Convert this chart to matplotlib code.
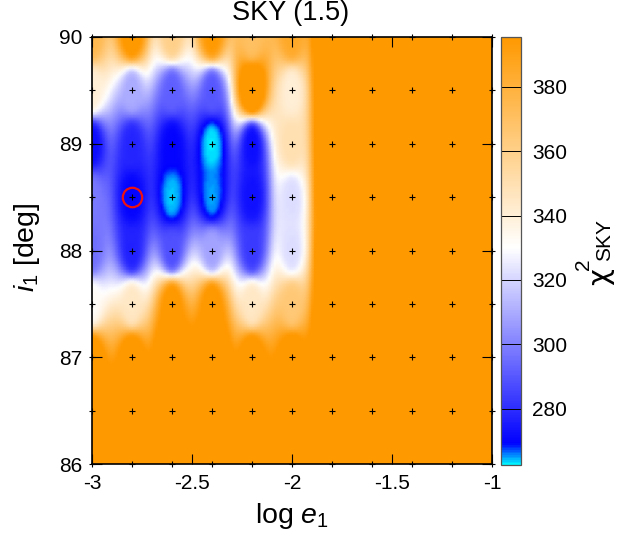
import numpy as np
import matplotlib
matplotlib.use("Agg")
import matplotlib.pyplot as plt
from matplotlib.colors import LinearSegmentedColormap, Normalize

plt.rcParams['font.family'] = ['Liberation Sans', 'DejaVu Sans']
plt.rcParams['mathtext.fontset'] = 'custom'
plt.rcParams['mathtext.rm'] = 'Liberation Sans'
plt.rcParams['mathtext.it'] = 'Liberation Sans:italic'

# measured grid: log e1 columns, i1 rows
log_e = [-3.0, -2.8, -2.6, -2.4, -2.2, -2.0, -1.8, -1.6, -1.4, -1.2, -1.0]
inc = [86.0, 86.5, 87.0, 87.5, 88.0, 88.5, 89.0, 89.5, 90.0]

chi2_860 = [420, 420, 420, 420, 420, 420, 420, 420, 420, 420, 420]
chi2_865 = [420, 420, 420, 420, 420, 420, 420, 420, 420, 420, 420]
chi2_870 = [405, 405, 420, 420, 405, 405, 420, 420, 420, 420, 420]
chi2_875 = [332, 345, 400, 400, 345, 365, 420, 420, 420, 420, 420]
chi2_880 = [296, 277, 288, 308, 283, 322, 420, 420, 420, 420, 420]
chi2_885 = [298, 270, 264, 265, 273, 322, 420, 420, 420, 420, 420]
chi2_890 = [272, 278, 270, 263, 272, 350, 420, 420, 420, 420, 420]
chi2_895 = [340, 310, 292, 290, 420, 340, 420, 420, 420, 420, 420]
chi2_900 = [375, 400, 360, 395, 370, 385, 420, 420, 420, 420, 420]

chi2 = np.array([chi2_860, chi2_865, chi2_870, chi2_875, chi2_880,
                 chi2_885, chi2_890, chi2_895, chi2_900], dtype=float)

cb_min, cb_max = 262.5, 395.5
cb_ticks = [280, 300, 320, 340, 360, 380]

# same idea as gnuplot's dgrid3d with a q-norm: weight = 1 / (dx^2 + (s*dy)^2)^2
def qnorm_grid(xs, ys, z, n=150, s=0.18):
    gx = np.linspace(xs[0], xs[-1], n)
    gy = np.linspace(ys[0], ys[-1], n)
    px, py = np.meshgrid(xs, ys)
    qx, qy = np.meshgrid(gx, gy)
    d = (qx[..., None, None] - px) ** 2 + (s * (qy[..., None, None] - py)) ** 2
    w = 1.0 / np.maximum(d, 1e-12) ** 2
    return gx, gy, (w * z).sum(axis=(2, 3)) / w.sum(axis=(2, 3))

def frac(v):
    return (v - cb_min) / (cb_max - cb_min)

cmap = LinearSegmentedColormap.from_list("sky", [
    (0.0, (0.0, 0.95, 1.0)),
    (frac(269), (0.0, 0.0, 1.0)),
    (frac(330), (1.0, 1.0, 1.0)),
    (1.0, (1.0, 0.6, 0.0)),
])

W, H = 639, 536
fig = plt.figure(figsize=(W / 100, H / 100), dpi=100)
ax = fig.add_axes([92 / W, 1 - 464 / H, 400 / W, 427 / H])
cax = fig.add_axes([501 / W, 1 - 465 / H, 20 / W, 428 / H])

gx, gy, gz = qnorm_grid(np.array(log_e), np.array(inc), chi2)
norm = Normalize(cb_min, cb_max)
mesh = ax.pcolormesh(gx, gy, gz, cmap=cmap, norm=norm, shading='gouraud', rasterized=True)

px, py = np.meshgrid(log_e, inc)
ax.plot(px.ravel(), py.ravel(), ls='none', marker='+', ms=5, mew=0.8, color='black', clip_on=False, zorder=5)
ax.plot([-2.8], [88.5], ls='none', marker='o', ms=14, mfc='none', mec='#ee1111', mew=1.6, zorder=6)

ax.set_xlim(-3, -1)
ax.set_ylim(86, 90)
ax.set_xticks([-3, -2.5, -2, -1.5, -1])
ax.set_xticklabels(['-3', '-2.5', '-2', '-1.5', '-1'])
ax.set_yticks([86, 87, 88, 89, 90])
ax.tick_params(direction='in', top=True, right=True, length=7, width=0.8, labelsize=15, pad=7)
for s in ax.spines.values():
    s.set_linewidth(1.2)

fig.text(291 / W, 1 - 13 / H, "SKY (1.5)", fontsize=19.5, ha='center', va='center')
fig.text(292 / W, 1 - 516 / H, "log $e_1$", fontsize=20.5, ha='center', va='center')
fig.text(27 / W, 1 - 247 / H, "$i_1$ [deg]", fontsize=20.5, rotation=90, ha='center', va='center')

cb = fig.colorbar(mesh, cax=cax, ticks=cb_ticks)
cb.ax.tick_params(direction='in', length=14.4, width=0.7, labelsize=15, pad=8, color='black')
cb.outline.set_edgecolor('#555555')
cb.outline.set_linewidth(0.9)

fig.text(600 / W, 1 - 277 / H, "χ", fontsize=21, family='DejaVu Sans', rotation=90, ha='center', va='center')
fig.text(583 / W, 1 - 264 / H, "2", fontsize=15, rotation=90, ha='center', va='center')
fig.text(605 / W, 1 - 240 / H, "SKY", fontsize=15, rotation=90, ha='center', va='center')

fig.savefig("out.png", dpi=100)
